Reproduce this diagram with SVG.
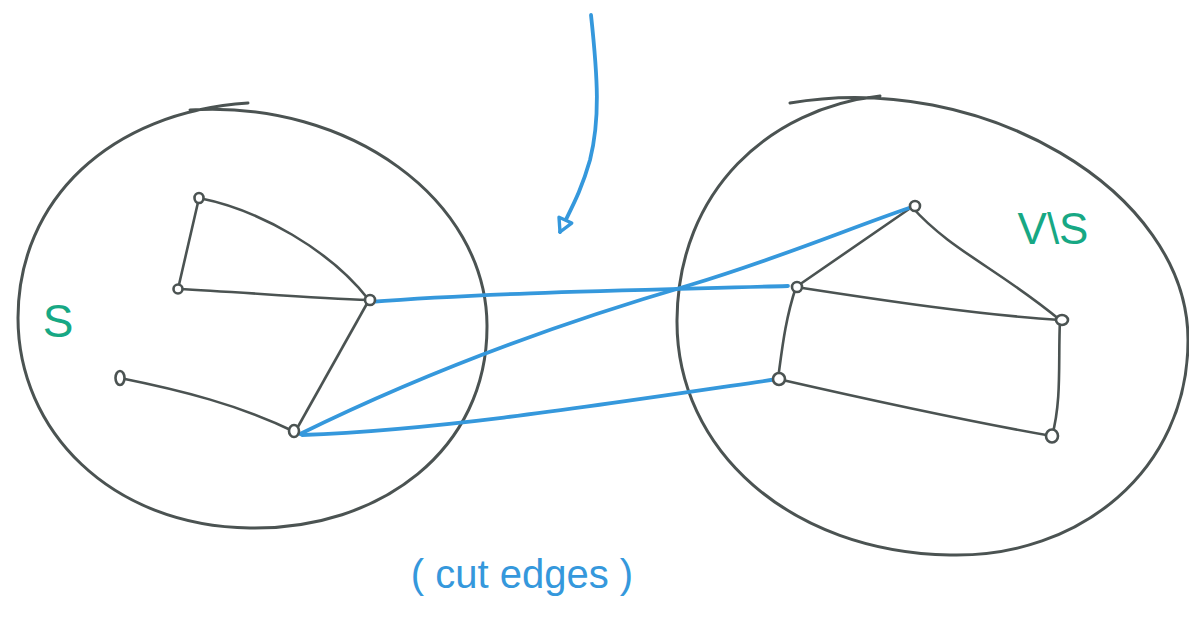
<svg xmlns="http://www.w3.org/2000/svg" width="1189" height="621" viewBox="0 0 1189 621">
<style>
.sk{fill:none;stroke:#4b5352;stroke-width:2.6;stroke-linecap:round;stroke-linejoin:round}
.big{fill:none;stroke:#4b5352;stroke-width:3;stroke-linecap:round}
.nd{fill:#fff;stroke:#4b5352;stroke-width:2.6}
.cut{fill:none;stroke:#3598dc;stroke-width:3.8;stroke-linecap:round;stroke-linejoin:round}
.lbl{font-family:"Liberation Sans",sans-serif;fill:#17a884}
.blue{font-family:"Liberation Sans",sans-serif;fill:#3598dc}
</style>
<defs>
<marker id="ah" viewBox="0 0 20 20" refX="16" refY="10" markerWidth="20" markerHeight="20" markerUnits="userSpaceOnUse" orient="auto">
<path d="M3,3 L16,10 L3,17 Z" fill="#fff" stroke="#3598dc" stroke-width="3.4" stroke-linejoin="round"/>
</marker>
</defs>
<g id="set-S">
<path class="big" d="M190,110 C350,100 486,200 487,325 C488,450 380,530 250,528 C110,526 18,430 18,318 C18,200 110,112 248,103"/>
</g>
<g id="set-VS">
<path class="big" d="M790,103 C980,70 1188,190 1188,340 C1188,470 1080,558 950,555 C790,552 676,450 677,320 C678,190 770,108 880,96"/>
</g>
<g id="connectors">
<path class="sk" d="M199,198 L178,289"/>
<path class="sk" d="M178,289 C240,292 310,298 369,300"/>
<path class="sk" d="M199,198 C260,210 330,250 369,300"/>
<path class="sk" d="M369,300 L295,432"/>
<path class="sk" d="M120,378 C180,390 240,405 295,432"/>
<path class="sk" d="M912,207 L796,287"/>
<path class="sk" d="M912,207 C950,250 1000,270 1060,320"/>
<path class="sk" d="M796,287 C880,300 980,315 1060,320"/>
<path class="sk" d="M796,287 C785,320 782,350 778,379"/>
<path class="sk" d="M778,379 C870,400 960,420 1052,436"/>
<path class="sk" d="M1060,320 C1058,360 1062,400 1052,436"/>
<path class="cut" d="M369,302 C500,292 650,290 788,286"/>
<path class="cut" d="M300,434 C430,370 570,320 690,285 C780,258 850,228 912,207"/>
<path class="cut" d="M302,435 C440,430 600,405 778,379"/>
<path class="cut" d="M591,15 C598,80 600,120 590,160 C580,195 570,210 560,232" marker-end="url(#ah)"/>
</g>
<g id="node-a"><ellipse class="nd" cx="199" cy="198" rx="4.5" ry="5"/></g>
<g id="node-b"><ellipse class="nd" cx="178" cy="289" rx="4.5" ry="4.5"/></g>
<g id="node-c"><ellipse class="nd" cx="370" cy="300" rx="5" ry="5"/></g>
<g id="node-d"><ellipse class="nd" cx="120" cy="378" rx="4.5" ry="7"/></g>
<g id="node-e"><ellipse class="nd" cx="294" cy="431" rx="5" ry="6"/></g>
<g id="node-f"><ellipse class="nd" cx="915" cy="206" rx="5" ry="5"/></g>
<g id="node-g"><ellipse class="nd" cx="797" cy="287" rx="5" ry="5"/></g>
<g id="node-h"><ellipse class="nd" cx="1062" cy="320" rx="6" ry="5"/></g>
<g id="node-i"><ellipse class="nd" cx="779" cy="379" rx="6" ry="6"/></g>
<g id="node-j"><ellipse class="nd" cx="1052" cy="436" rx="6" ry="6.5"/></g>
<text class="lbl" x="58" y="337" font-size="46" text-anchor="middle">S</text>
<text class="lbl" x="1053" y="244" font-size="44" text-anchor="middle">V\S</text>
<text class="blue" x="522" y="588" font-size="40" text-anchor="middle">( cut edges )</text>
</svg>
